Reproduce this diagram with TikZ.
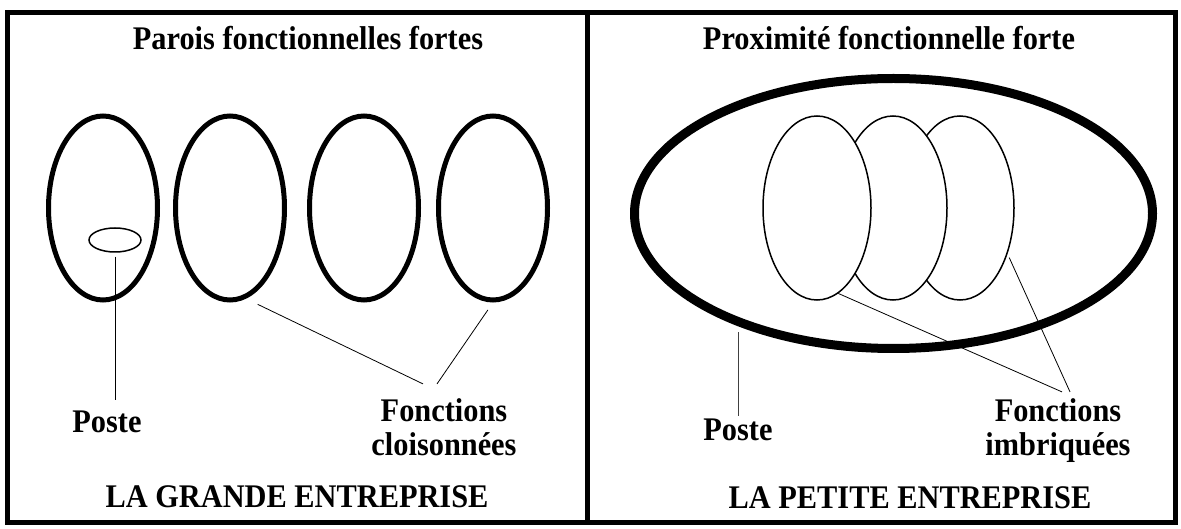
\documentclass[tikz,border=0pt]{standalone}
\usepackage{fontspec}
\setmainfont{Liberation Serif}[FakeStretch=0.92]
\usetikzlibrary{positioning,shapes.geometric}

\tikzset{
    lbl/.style={font=\fontsize{33}{34}\selectfont\bfseries,inner sep=0pt,align=center},
    cloison/.style={ellipse,draw,line width=5pt,minimum width=109pt,minimum height=184pt,inner sep=0pt},
    imbrique/.style={ellipse,draw,fill=white,line width=1.5pt,minimum width=108pt,minimum height=184pt,inner sep=0pt},
    lead/.style={line width=0.8pt}
}

\begin{document}
\begin{tikzpicture}[x=1pt,y=-1pt]
    \useasboundingbox (0,0) rectangle (1181,529);
    \draw[line width=5pt] (7.5,12.5) rectangle (1175.5,522);
    \draw[line width=5pt] (587.5,12.5) -- (587.5,522);

    \node[lbl,anchor=base] (titreG) at (308,50) {Parois fonctionnelles fortes};
    \node[lbl,anchor=base] (titreP) at (889,50) {Proximité fonctionnelle forte};
    \node[lbl,anchor=base] (nomG) at (297,507) {LA GRANDE ENTREPRISE};
    \node[lbl,anchor=base] (nomP) at (910,508) {LA PETITE ENTREPRISE};

    \foreach \cx [count=\i] in {103,230,364,493}
        \node[cloison] (c\i) at (\cx,208) {};
    \node[ellipse,draw,line width=1.5pt,minimum width=52pt,minimum height=24pt,inner sep=0pt]
        (poste1) at (115,240) {};

    \node[ellipse,draw,line width=9pt,minimum width=518pt,minimum height=270pt,inner sep=0pt]
        (ent) at (893.5,213.5) {};
    \foreach \cx/\i in {960/3,893/2,817/1}
        \node[imbrique] (i\i) at (\cx,208) {};

    \node[lbl,anchor=base] (lposte1) at (107,432) {Poste};
    \node[lbl,anchor=base] (lposte2) at (738,440) {Poste};
    \node[lbl,anchor=base] (lfc) at (444,455) {Fonctions\\cloisonnées};
    \node[lbl,anchor=base] (lfi) at (1058,455) {Fonctions\\imbriquées};

    \draw[line width=1pt,shorten <=4pt,shorten >=10pt] (poste1.south) -- (poste1.south |- lposte1.north);
    \draw[lead,black!75,shorten <=6pt,shorten >=2pt] (ent.216) -- (ent.216 |- lposte2.north);
    \draw[lead,shorten <=13pt] (c2.280) -- ([xshift=-21pt,yshift=14pt]lfc.north);
    \draw[lead,shorten <=9pt] (c4.south) -- ([xshift=-7pt,yshift=14pt]lfc.north);
    \draw[lead] (i1.284) -- ([xshift=4pt,yshift=6pt]lfi.north);
    \draw[lead,shorten <=4pt] (i3.316) -- ([xshift=12pt,yshift=6pt]lfi.north);
\end{tikzpicture}
\end{document}
